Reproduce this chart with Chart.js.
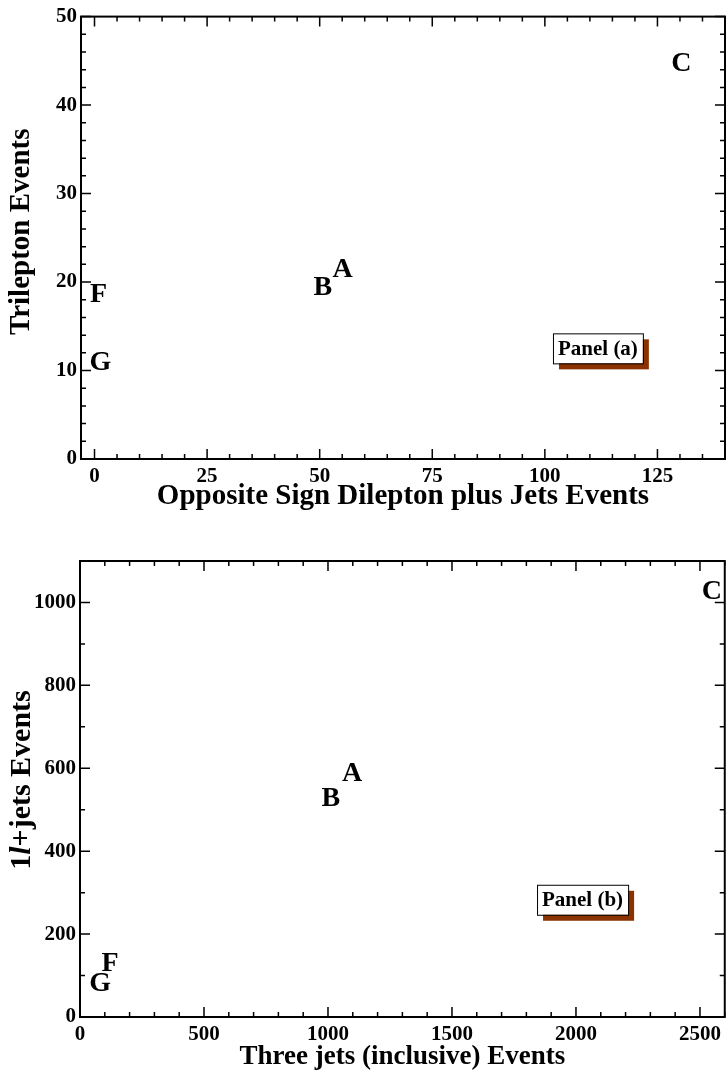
<!DOCTYPE html>
<html>
<head>
<meta charset="utf-8">
<script src="https://cdn.jsdelivr.net/npm/chart.js@4.4.1/dist/chart.umd.min.js"></script>
<style>
  body { margin: 0; background: #fff; }
  .panel { position: absolute; left: 0; width: 726px; }
</style>
</head>
<body>
<div class="panel" style="top:0;height:530px"><canvas id="panelA"></canvas></div>
<div class="panel" style="top:530px;height:548px"><canvas id="panelB"></canvas></div>
<script>
// model points
const models = ["A", "B", "C", "F", "G"]
const dileptonEvents = [55.1, 50.7, 130.3, 0.9, 1.3]
const trileptonEvents = [21.4, 19.4, 44.7, 18.6, 10.9]
const threeJetEvents = [1097, 1012, 2548, 121, 81]
const oneLeptonEvents = [586, 526, 1026, 129, 81]

const serif = "'Liberation Serif', 'Times New Roman', serif"

// box, inward major/minor ticks on all four sides
const frame = {
  id: "frame",
  afterDraw(chart, args, opts) {
    const { ctx, chartArea: a, scales: { x, y } } = chart
    ctx.save()
    ctx.strokeStyle = "#000"
    ctx.lineWidth = 1.5
    const marks = (scale, major, minor, horiz) => {
      let v = Math.ceil(scale.min / minor) * minor
      for (; v <= scale.max + 1e-9; v += minor) {
        const isMajor = Math.abs(v / major - Math.round(v / major)) < 1e-6
        const len = isMajor ? 10 : 5
        const p = scale.getPixelForValue(v)
        ctx.beginPath()
        if (horiz) {
          ctx.moveTo(p, a.bottom); ctx.lineTo(p, a.bottom - len)
          ctx.moveTo(p, a.top); ctx.lineTo(p, a.top + len)
        } else {
          ctx.moveTo(a.left, p); ctx.lineTo(a.left + len, p)
          ctx.moveTo(a.right, p); ctx.lineTo(a.right - len, p)
        }
        ctx.stroke()
      }
    }
    marks(x, opts.xMajor, opts.xMinor, true)
    marks(y, opts.yMajor, opts.yMinor, false)
    ctx.lineWidth = 2
    ctx.strokeRect(a.left, a.top, a.right - a.left, a.bottom - a.top)
    ctx.restore()
  }
}

// model letters drawn where the points sit
const letters = {
  id: "letters",
  afterDatasetsDraw(chart) {
    const { ctx } = chart
    ctx.save()
    ctx.fillStyle = "#000"
    ctx.font = "bold 28px " + serif
    ctx.textAlign = "center"
    ctx.textBaseline = "middle"
    chart.data.datasets.forEach((ds, i) => {
      chart.getDatasetMeta(i).data.forEach((pt, j) => {
        ctx.fillText(ds.names[j], pt.x, pt.y)
      })
    })
    ctx.restore()
  }
}

// "Panel (x)" box with a brown drop shadow
const panelBox = {
  id: "panelBox",
  afterDraw(chart, args, opts) {
    const { ctx, scales: { x, y } } = chart
    const left = x.getPixelForValue(opts.x)
    const top = y.getPixelForValue(opts.y)
    ctx.save()
    ctx.font = "bold 21px " + serif
    const w = ctx.measureText(opts.text).width + 10
    const h = 30
    ctx.fillStyle = "#8b3300"
    ctx.fillRect(left + 6, top + 6, w, h)
    ctx.fillStyle = "#fff"
    ctx.fillRect(left, top, w, h)
    ctx.strokeStyle = "#000"
    ctx.lineWidth = 1
    ctx.strokeRect(left + 0.5, top + 0.5, w, h)
    ctx.fillStyle = "#000"
    ctx.textAlign = "center"
    ctx.textBaseline = "middle"
    ctx.fillText(opts.text, left + w / 2, top + h / 2 + 1)
    ctx.restore()
  }
}

// rotated y title, pieces may be italic (the lepton "l")
const richTitle = {
  id: "richTitle",
  afterDraw(chart, args, opts) {
    if (!opts.parts) return
    const { ctx, chartArea: a } = chart
    ctx.save()
    ctx.fillStyle = "#000"
    ctx.textBaseline = "middle"
    const fonts = opts.parts.map(p => (p.italic ? "italic " : "") + "bold " + opts.size + "px " + serif)
    let total = 0
    opts.parts.forEach((p, i) => { ctx.font = fonts[i]; total += ctx.measureText(p.text).width })
    ctx.translate(opts.x, (a.top + a.bottom) / 2 + opts.dy)
    ctx.rotate(-Math.PI / 2)
    let cx = -total / 2
    opts.parts.forEach((p, i) => {
      ctx.font = fonts[i]
      ctx.textAlign = "left"
      ctx.fillText(p.text, cx, 0)
      cx += ctx.measureText(p.text).width
    })
    ctx.restore()
  }
}

function axis(min, max, step, titleText, titleSize, titlePad, size, horiz) {
  return {
    type: "linear",
    min: min,
    max: max,
    afterBuildTicks: s => {
      const vals = []
      for (let v = Math.ceil(min / step) * step; v <= max; v += step) vals.push({ value: v })
      s.ticks = vals
    },
    afterFit: s => { if (horiz) s.height = size; else s.width = size },
    grid: { display: false, drawTicks: false },
    border: { display: false },
    ticks: {
      stepSize: step,
      source: "data",
      autoSkip: false,
      color: "#000",
      padding: horiz ? 5 : 4,
      maxRotation: 0,
      callback: v => String(v),
      font: { family: serif, size: 21, weight: "bold" }
    },
    title: {
      display: !!titleText,
      text: titleText,
      color: "#000",
      font: { family: serif, size: titleSize, weight: "bold" },
      padding: titlePad
    }
  }
}

function build(id, xs, ys, cfg) {
  const points = xs.map((x, i) => ({ x: x, y: ys[i] }))
  return new Chart(document.getElementById(id), {
    type: "scatter",
    data: {
      datasets: [{ data: points, names: models, pointRadius: 0, pointHoverRadius: 0 }]
    },
    options: {
      responsive: true,
      maintainAspectRatio: false,
      animation: false,
      layout: { padding: { top: cfg.padTop, right: 1, left: 0, bottom: 0 } },
      plugins: {
        legend: { display: false },
        tooltip: { enabled: false },
        frame: cfg.frame,
        panelBox: cfg.box,
        richTitle: cfg.yTitle
      },
      scales: { x: cfg.x, y: cfg.y }
    },
    plugins: [frame, letters, panelBox, richTitle]
  })
}

build("panelA", dileptonEvents, trileptonEvents, {
  padTop: 9,
  x: axis(-3, 140, 25, "Opposite Sign Dilepton plus Jets Events", 29, { top: 0, bottom: 16 }, 71, true),
  y: axis(0, 50, 10, "", 29, 0, 81, false),
  frame: { xMajor: 25, xMinor: 5, yMajor: 10, yMinor: 2 },
  box: { text: "Panel (a)", x: 101.8, y: 14.2 },
  yTitle: { x: 22, dy: -6, size: 29, parts: [{ text: "Trilepton Events" }] }
})

build("panelB", threeJetEvents, oneLeptonEvents, {
  padTop: 31,
  x: axis(0, 2600, 500, "Three jets (inclusive) Events", 27, { top: 0, bottom: 5 }, 61, true),
  y: axis(0, 1100, 200, "", 29, 0, 80, false),
  frame: { xMajor: 500, xMinor: 100, yMajor: 200, yMinor: 100 },
  box: { text: "Panel (b)", x: 1843, y: 319 },
  yTitle: { x: 22, dy: -9, size: 30, parts: [{ text: "1" }, { text: "l", italic: true }, { text: "+jets Events" }] }
})
</script>
</body>
</html>
